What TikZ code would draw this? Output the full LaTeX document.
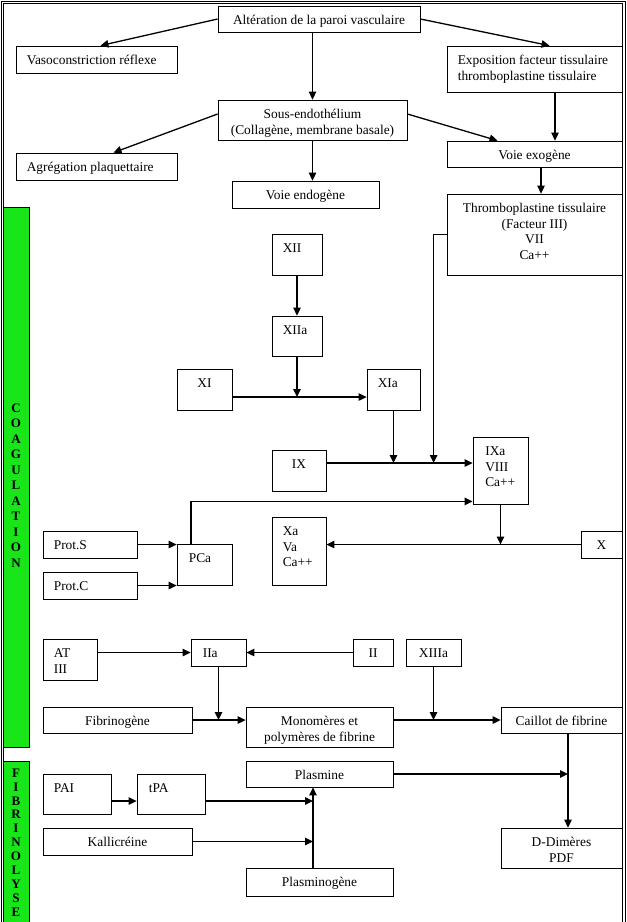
\documentclass[tikz,border=0pt]{standalone}
\usepackage{fontspec}
\setmainfont{Liberation Serif}
\usetikzlibrary{arrows.meta}
\definecolor{barGreen}{RGB}{24,230,24}

\begin{document}
\begin{tikzpicture}[
    x=1pt, y=-1pt,
    box/.style 2 args={rectangle, draw, line width=0.8pt, inner sep=0pt, minimum width=#1pt, minimum height=#2pt},
    txt/.style={inner sep=0pt, anchor=north, align=center, font=\fontsize{13.4}{15.5}\selectfont},
    txtl/.style={txt, anchor=north west, align=left},
    band/.style={draw, line width=0.8pt, fill=barGreen},
    bandtxt/.style={inner sep=0pt, align=center, font=\fontsize{13}{#1}\selectfont\bfseries},
    arrow/.style={-{Triangle[length=8pt, width=7.5pt]}, line width=1.3pt}
]
\useasboundingbox (0,0) rectangle (627,922);

% outer frame and side bands
\draw[line width=0.8pt, double distance=1.6pt] (2.5,930) -- (2.5,2.5) -- (624,2.5) -- (624,930);
\draw[band] (3.5,207) rectangle (29,747);
\draw[band] (3.5,761) rectangle (29,930);
\node[bandtxt=15.5] (coag) at (16,485.5) {C\\O\\A\\G\\U\\L\\A\\T\\I\\O\\N};
\node[bandtxt=13.9] (fibr) at (16,842.5) {F\\I\\B\\R\\I\\N\\O\\L\\Y\\S\\E};

% vessel wall
\node[box={202}{26}] (alter) at (319,19) {};
\node[txt] (t-alter) at ([shift={(0,8)}]alter.north) {\strut Altération de la paroi vasculaire};
\node[box={161}{27}] (vaso) at (96.5,59.5) {};
\node[txtl] (t-vaso) at ([shift={(11,8)}]vaso.north west) {\strut Vasoconstriction réflexe};
\node[box={175}{46}] (expo) at (534.5,69) {};
\node[txtl] (t-expo) at ([shift={(11,8)}]expo.north west) {\strut Exposition facteur tissulaire\\thromboplastine tissulaire};
\node[box={189}{40}] (sous) at (312.5,120) {};
\node[txt] (t-sous) at ([shift={(0,8)}]sous.north) {\strut Sous-endothélium\\(Collagène, membrane basale)};
\node[box={161}{27}] (agreg) at (96.5,166.5) {};
\node[txtl] (t-agreg) at ([shift={(11,8)}]agreg.north west) {\strut Agrégation plaquettaire};
\node[box={147}{27}] (endo) at (305.5,194.5) {};
\node[txt] (t-endo) at ([shift={(0,8)}]endo.north) {\strut Voie endogène};
\node[box={175}{26}] (exo) at (534.5,154) {};
\node[txt] (t-exo) at ([shift={(0,8)}]exo.north) {\strut Voie exogène};
\node[box={175}{81}] (thrombo) at (534.5,234.5) {};
\node[txt] (t-thrombo) at ([shift={(0,8)}]thrombo.north) {\strut Thromboplastine tissulaire\\(Facteur III)\\VII\\Ca++};

% coagulation factors
\node[box={50}{41}] (xii) at (297,254.5) {};
\node[txtl] (t-xii) at ([shift={(11,8)}]xii.north west) {\strut XII};
\node[box={50}{40}] (xiia) at (297,336) {};
\node[txtl] (t-xiia) at ([shift={(11,8)}]xiia.north west) {\strut XIIa};
\node[box={55}{41}] (xi) at (204.5,389.5) {};
\node[txt] (t-xi) at ([shift={(0,8)}]xi.north) {\strut XI};
\node[box={53}{41}] (xia) at (393.5,389.5) {};
\node[txtl] (t-xia) at ([shift={(11,8)}]xia.north west) {\strut XIa};
\node[box={54}{41}] (ix) at (299,470.5) {};
\node[txt] (t-ix) at ([shift={(0,8)}]ix.north) {\strut IX};
\node[box={55}{67}] (ixa) at (500.5,470.5) {};
\node[txtl] (t-ixa) at ([shift={(12.5,8)}]ixa.north west) {\strut IXa\\VIII\\Ca++};
\node[box={55}{41}] (pca) at (204.5,564.5) {};
\node[txtl] (t-pca) at ([shift={(12,8)}]pca.north west) {\strut PCa};
\node[box={54}{68}] (xa) at (299,551) {};
\node[txtl] (t-xa) at ([shift={(11,8)}]xa.north west) {\strut Xa\\Va\\Ca++};
\node[box={41}{27}] (x) at (601.5,544.5) {};
\node[txt] (t-x) at ([shift={(0,8)}]x.north) {\strut X};
\node[box={94}{27}] (prots) at (90,544.5) {};
\node[txtl] (t-prots) at ([shift={(11,8)}]prots.north west) {\strut Prot.S};
\node[box={94}{27}] (protc) at (90,585.5) {};
\node[txtl] (t-protc) at ([shift={(11,8)}]protc.north west) {\strut Prot.C};

% fibrin formation
\node[box={54}{41}] (at) at (70,659.5) {};
\node[txtl] (t-at) at ([shift={(11,8)}]at.north west) {\strut AT\\III};
\node[box={55}{27}] (iia) at (218.5,652.5) {};
\node[txtl] (t-iia) at ([shift={(12,8)}]iia.north west) {\strut IIa};
\node[box={40}{27}] (ii) at (373,652.5) {};
\node[txt] (t-ii) at ([shift={(0,8)}]ii.north) {\strut II};
\node[box={55}{27}] (xiiia) at (433.5,652.5) {};
\node[txt] (t-xiiia) at ([shift={(0,8)}]xiiia.north) {\strut XIIIa};
\node[box={149}{26}] (fibg) at (117.5,720) {};
\node[txt] (t-fibg) at ([shift={(0,8)}]fibg.north) {\strut Fibrinogène};
\node[box={147}{40}] (mono) at (319.5,727) {};
\node[txt] (t-mono) at ([shift={(0,8)}]mono.north) {\strut Monomères et\\polymères de fibrine};
\node[box={121}{26}] (caillot) at (561.5,720) {};
\node[txt] (t-caillot) at ([shift={(0,8)}]caillot.north) {\strut Caillot de fibrine};

% fibrinolysis
\node[box={147}{26}] (plasmine) at (319.5,774) {};
\node[txt] (t-plasmine) at ([shift={(0,8)}]plasmine.north) {\strut Plasmine};
\node[box={68}{40}] (pai) at (77,794) {};
\node[txtl] (t-pai) at ([shift={(11,8)}]pai.north west) {\strut PAI};
\node[box={68}{40}] (tpa) at (171,794) {};
\node[txtl] (t-tpa) at ([shift={(12,8)}]tpa.north west) {\strut tPA};
\node[box={149}{27}] (kalli) at (117.5,841.5) {};
\node[txt] (t-kalli) at ([shift={(0,8)}]kalli.north) {\strut Kallicréine};
\node[box={147}{28}] (plgn) at (319.5,882) {};
\node[txt] (t-plgn) at ([shift={(0,8)}]plgn.north) {\strut Plasminogène};
\node[box={121}{40}] (ddim) at (561.5,848) {};
\node[txt] (t-ddim) at ([shift={(0,8)}]ddim.north) {\strut D-Dimères\\PDF};

% arrows: vessel wall
\draw[arrow] (alter.west) -- ([shift={(4,0)}]vaso.north);
\draw[arrow] (alter.south -| sous.north) -- (sous.north);
\draw[arrow] (alter.east) -- ([shift={(15,0)}]expo.north);
\draw[arrow] ([shift={(0,-6)}]sous.west) -- ([shift={(17,0)}]agreg.north);
\draw[arrow] (sous.south) -- (sous.south |- endo.north);
\draw[arrow] ([shift={(0,-6)}]sous.east) -- ([shift={(-37,0)}]exo.north);
\draw[arrow] ([shift={(20.5,0)}]expo.south) -- ([shift={(20.5,0)}]exo.north);
\draw[arrow] ([shift={(6.5,0)}]exo.south) -- ([shift={(6.5,0)}]thrombo.north);

% arrows: cascade
\coordinate (xiline) at ([shift={(0,7.5)}]xi.east);
\coordinate (ixline) at ([shift={(0,-7.5)}]ix.east);
\coordinate (tfbend) at ([shift={(-13,0)}]thrombo.west);
\draw[arrow] (xii.south) -- (xiia.north);
\draw[arrow] (xiia.south) -- (xiia.south |- xiline);
\draw[arrow] (xiline) -- (xiline -| xia.west);
\draw[arrow] (xia.south) -- (xia.south |- ixline);
\draw[arrow] (thrombo.west) -- (tfbend) -- (tfbend |- ixline);
\draw[arrow] (ixline) -- (ixline -| ixa.west);
\draw[arrow] ([shift={(-13.5,0)}]pca.north) |- ([shift={(0,-3)}]ixa.south west);
\draw[arrow] (x.west) -- (x.west -| xa.east);
\draw[arrow] (ixa.south) -- (ixa.south |- x.west);
\draw[arrow] (prots.east) -- (prots.east -| pca.west);
\draw[arrow] (protc.east) -- (protc.east -| pca.west);

% arrows: fibrin
\draw[arrow] (iia.west -| at.east) -- (iia.west);
\draw[arrow] (ii.west) -- (iia.east);
\draw[arrow] (fibg.east) -- (fibg.east -| mono.west);
\draw[arrow] (iia.south) -- (iia.south |- fibg.east);
\draw[arrow] (caillot.west -| mono.east) -- (caillot.west);
\draw[arrow] (xiiia.south) -- (xiiia.south |- caillot.west);

% arrows: fibrinolysis
\coordinate (cdrop) at ([shift={(6.5,0)}]caillot.south);
\coordinate (pdrop) at ([shift={(-6.5,0)}]plgn.north);
\coordinate (paiout) at ([shift={(0,7)}]pai.east);
\draw[arrow] (cdrop) -- (cdrop |- ddim.north);
\draw[arrow] (plasmine.east) -- (plasmine.east -| cdrop);
\draw[arrow] (pdrop) -- (pdrop |- plasmine.south);
\draw[arrow] (paiout) -- (paiout -| tpa.west);
\draw[arrow] (paiout -| tpa.east) -- (paiout -| pdrop);
\draw[arrow] (kalli.east) -- (kalli.east -| pdrop);
\end{tikzpicture}
\end{document}
